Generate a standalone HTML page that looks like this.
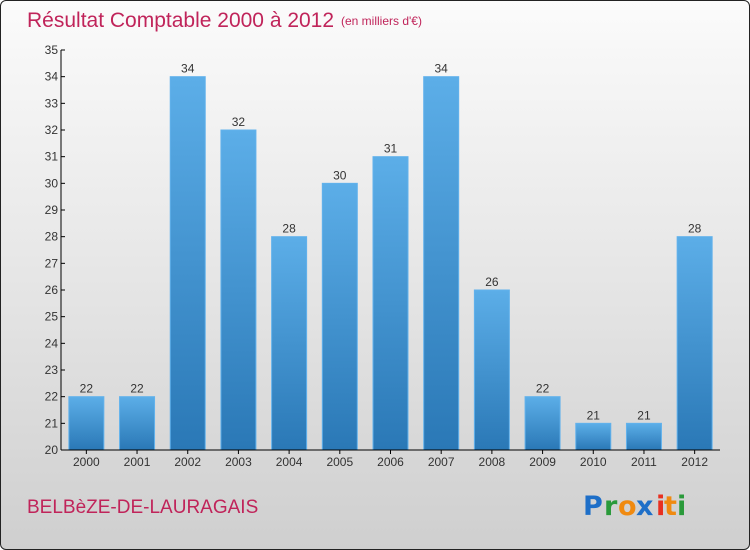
<!DOCTYPE html>
<html><head><meta charset="utf-8"><style>
body{margin:0;width:750px;height:550px;overflow:hidden;font-family:"Liberation Sans",sans-serif}
#frame{position:absolute;left:0;top:0;width:748px;height:548px;border:1px solid #222;border-radius:6px;background:linear-gradient(#fbfbfb,#e6e6e6 50%,#cfcfcf)}
</style></head><body>
<div id="frame"></div>
<svg width="750" height="550" style="position:absolute;left:0;top:0" id="chart">
<defs><linearGradient id="bg" x1="0" y1="0" x2="0" y2="1"><stop offset="0" stop-color="#5caee8"/><stop offset="1" stop-color="#2a78b6"/></linearGradient></defs>
<text x="27" y="27" font-size="21" fill="#c0245a">Résultat Comptable 2000 à 2012</text>
<text x="341" y="25" font-size="12" fill="#c0245a">(en milliers d'€)</text>
<text x="27" y="513" font-size="19" fill="#c0245a">BELBèZE-DE-LAURAGAIS</text>
<g font-size="27" font-family="'DejaVu Sans',sans-serif" font-weight="bold">
<text x="583" y="515" fill="#1e6fc8">P</text><text x="604" y="515" fill="#2a9a3a">r</text><text x="618" y="515" fill="#f08a10">o</text><text x="636" y="515" fill="#1e6fc8">x</text><text x="656" y="515" fill="#e83020">i</text><text x="664" y="515" fill="#f08a10">t</text><text x="677" y="515" fill="#2a9a3a">i</text>
</g>
<g id="plot"></g>
</svg>
<script>
const years=["2000","2001","2002","2003","2004","2005","2006","2007","2008","2009","2010","2011","2012"];
const values=[22,22,34,32,28,30,31,34,26,22,21,21,28];
const yTicks=[20,21,22,23,24,25,26,27,28,29,30,31,32,33,34,35];
const x0=61,x1=720,yMin=20,yMax=35,yTop=50,yBot=450;
const y=v=>yBot-(v-yMin)/(yMax-yMin)*(yBot-yTop);
const bw=(x1-x0)/years.length;
const xc=i=>x0+bw*(i+0.5);
const g=document.getElementById('plot');
const NS='http://www.w3.org/2000/svg';
function mk(t,a){const e=document.createElementNS(NS,t);for(const k in a)e.setAttribute(k,a[k]);g.appendChild(e);return e;}
values.forEach((v,i)=>{
 const r=mk('rect',{x:xc(i)-17.5,y:y(v),width:35,height:yBot-y(v),fill:'url(#bg)',stroke:'#62b2ec','stroke-width':1});
 
 
 const t=mk('text',{x:xc(i),y:y(v)-4,'text-anchor':'middle','font-size':12,fill:'#333'});t.textContent=v;
 
 
 const xl=mk('text',{x:xc(i),y:466,'text-anchor':'middle','font-size':12,fill:'#333'});xl.textContent=years[i];
 
 
 const tk=mk('line',{x1:xc(i),x2:xc(i),y1:yBot,y2:yBot+4,stroke:'#000'});
 
 
});
yTicks.forEach(v=>{
 const l=mk('line',{x1:x0,x2:x0+4,y1:y(v),y2:y(v),stroke:'#000'});
 
 
 const t=mk('text',{x:x0-3,y:y(v)+4,'text-anchor':'end','font-size':12,fill:'#333'});t.textContent=v;
 
 
});
const ya=mk('line',{x1:x0,x2:x0,y1:yTop,y2:yBot,stroke:'#000'});


const xa=mk('line',{x1:x0,x2:x1,y1:yBot,y2:yBot,stroke:'#000'});


</script>
</body></html>
